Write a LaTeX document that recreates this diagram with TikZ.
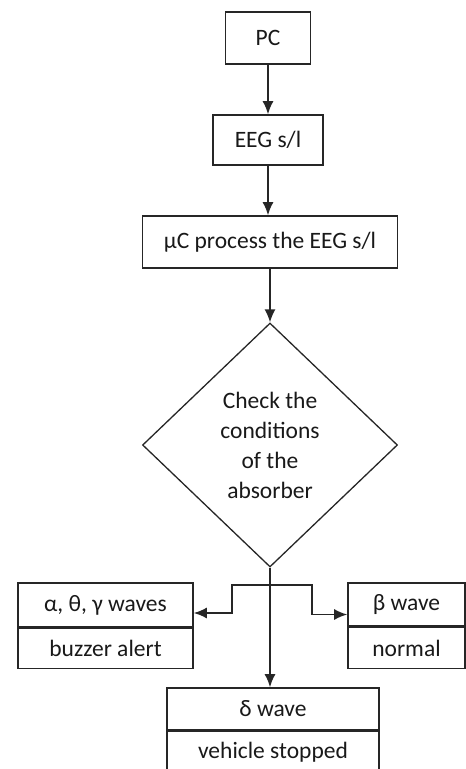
\documentclass[tikz,border=0pt]{standalone}
\usepackage{fontspec}
\setmainfont{Carlito}
\usetikzlibrary{shapes.geometric,arrows.meta}

\tikzset{
  box/.style={draw=black!85, line width=1.6pt, text=black!90, inner sep=0pt, align=center},
  arr/.style={draw=black!85, line width=1.6pt, -{Latex[length=13pt,width=11pt]}},
  line/.style={draw=black!85, line width=1.6pt}
}

\begin{document}
\begin{tikzpicture}[x=1pt,y=-1pt,font=\fontsize{23.5}{30}\selectfont]
  \useasboundingbox (0,0) rectangle (466,769);

%%%%%%%%%%%%%%%%%%%%%%%% main chain
\node[box, minimum width=85, minimum height=52] (pc) at (268,38) {PC};
\node[box, minimum width=110, minimum height=50] (eeg) at (268,140) {EEG s/l};
\node[box, minimum width=255, minimum height=52] (uc) at (270,242) {µC process the EEG s/l};
\node[box, shape=diamond, line width=1.3pt, minimum width=255, minimum height=244] (check) at (270,445)
  {Check the\\conditions\\of the\\absorber};

\foreach \a/\b in {pc/eeg, eeg/uc, uc/check}{
   \draw[arr] (\a.south) -- (\a.south |- \b.north);
}

%%%%%%%%%%%%%%%%%%%%%%%% outcomes
\node[box, minimum width=175, minimum height=44] (alpha) at (105.5,605) {α, θ, γ waves};
\node[box, minimum width=175, minimum height=40, anchor=north] (buzzer) at (alpha.south) {buzzer alert};

\node[box, minimum width=117, minimum height=43] (beta) at (406.5,604.5) {β wave};
\node[box, minimum width=117, minimum height=41, anchor=north] (normal) at (beta.south) {normal};

\node[box, minimum width=212, minimum height=42] (delta) at (273,709) {δ wave};
\node[box, minimum width=212, minimum height=42, anchor=north] (stopped) at (delta.south) {vehicle stopped};

%%%%%%%%%%%%%%%%%%%%%%%% branches
\coordinate (jl) at (232,585);
\coordinate (jr) at (312,585);
\draw[arr] (check.south) -- (check.south |- delta.north);
\draw[arr] (check.south |- jl) -- (jl) |- ([yshift=-8pt]alpha.east);
\draw[arr] (check.south |- jr) -- (jr) |- ([yshift=-10pt]beta.west);

\end{tikzpicture}
\end{document}
